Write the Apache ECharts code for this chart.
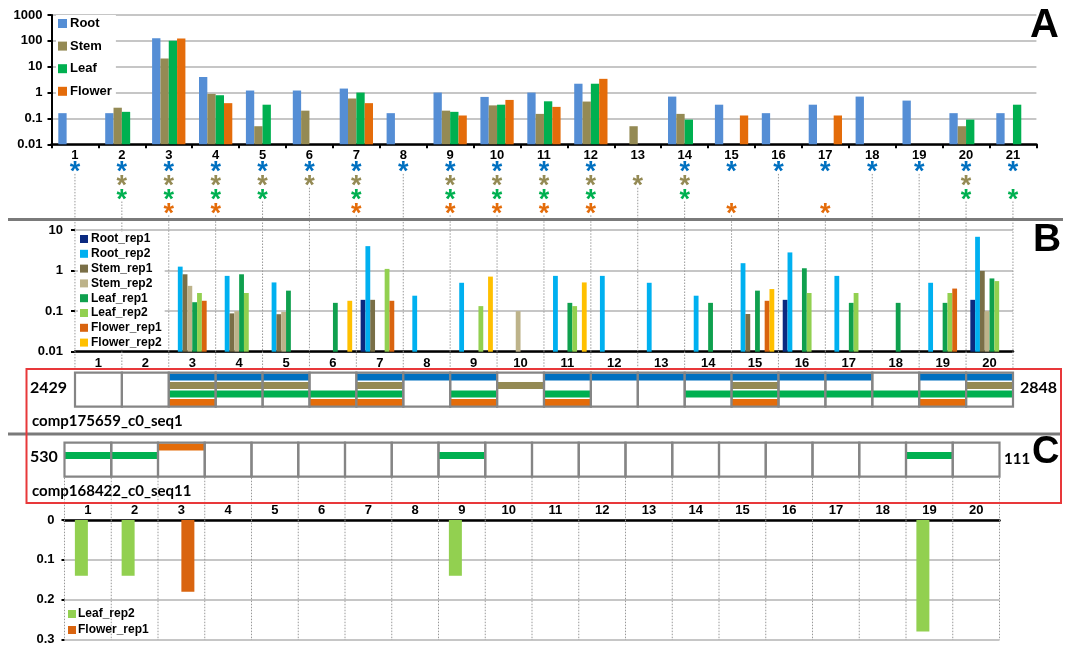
<!DOCTYPE html>
<html><head><meta charset="utf-8">
<script src="https://cdn.jsdelivr.net/npm/echarts@6/dist/echarts.min.js"></script>
<style>html,body{margin:0;padding:0;background:#fff}#c{width:1073px;height:646px}</style>
</head><body><div id="c"></div>
<script>
// ---------- DATA ----------
const catsA = ['1','2','3','4','5','6','7','8','9','10','11','12','13','14','15','16','17','18','19','20','21'];
const catsB = ['1','2','3','4','5','6','7','8','9','10','11','12','13','14','15','16','17','18','19','20'];
const ticksLogA = ['0.01','0.1','1','10','100','1000'];
const ticksLogB = ['0.01','0.1','1','10'];
const ticksC = ['0','0.1','0.2','0.3'];

// Panel A (log scale), 21 genes
const rootA   = [0.16,0.16,125,4.0,1.2,1.2,1.43,0.16,1.0,0.68,1.0,2.2,null,0.7,0.34,0.16,0.34,0.7,0.49,0.16,0.16];
const stemA   = [null,0.26,21,0.89,0.05,0.2,0.59,null,0.2,0.32,0.15,0.45,0.05,0.15,null,null,null,null,null,0.05,null];
const leafA   = [null,0.18,100,0.79,0.34,null,1.0,null,0.18,0.34,0.46,2.2,null,0.09,null,null,null,null,null,0.09,0.34];
const flowerA = [null,null,124,0.39,null,null,0.39,null,0.13,0.52,0.28,3.4,null,null,0.13,null,0.13,null,null,null,null];

// significance asterisks (1 = shown)
const sigRoot   = [1,1,1,1,1,1,1,1,1,1,1,1,0,1,1,1,1,1,1,1,1];
const sigStem   = [0,1,1,1,1,1,1,0,1,1,1,1,1,1,0,0,0,0,0,1,0];
const sigLeaf   = [0,1,1,1,1,0,1,0,1,1,1,1,0,1,0,0,0,0,0,1,1];
const sigFlower = [0,0,1,1,0,0,1,0,1,1,1,1,0,0,1,0,1,0,0,0,0];

// Panel B (log scale), 20 isoforms
const rootRep1   = [null,null,null,null,null,null,0.19,null,null,null,null,null,null,null,null,0.19,null,null,null,0.19];
const rootRep2   = [null,null,1.25,0.74,0.51,null,4.0,0.24,0.5,null,0.74,0.74,0.5,0.24,1.52,2.8,0.74,null,0.5,6.8];
const stemRep1   = [null,null,0.81,0.088,0.084,null,0.19,null,null,null,null,null,null,null,0.085,null,null,null,null,0.98];
const stemRep2   = [null,null,0.42,0.1,0.096,null,null,null,null,0.1,null,null,null,null,null,null,null,null,null,0.1];
const leafRep1   = [null,null,0.166,0.81,0.32,0.16,null,null,null,null,0.16,null,null,0.16,0.32,1.14,0.16,0.16,0.16,0.64];
const leafRep2   = [null,null,0.28,0.28,null,null,1.1,null,0.133,null,0.133,null,null,null,null,0.28,0.28,null,0.28,0.55];
const flowerRep1 = [null,null,0.18,null,null,null,0.18,null,null,null,null,null,null,null,0.18,null,null,null,0.36,null];
const flowerRep2 = [null,null,null,null,null,0.18,null,null,0.71,null,0.51,null,null,null,0.35,null,null,null,null,null];

// comp175659_c0_seq1 expression boxes
const boxRoot   = [0,0,1,1,1,0,1,1,1,0,1,1,1,1,1,1,1,0,1,1];
const boxStem   = [0,0,1,1,1,0,1,0,0,1,0,0,0,0,1,0,0,0,0,1];
const boxLeaf   = [0,0,1,1,1,1,1,0,1,0,1,0,0,1,1,1,1,1,1,1];
const boxFlower = [0,0,1,0,0,1,1,0,1,0,1,0,0,0,1,0,0,0,1,0];

// comp168422_c0_seq11 expression boxes
const seq11Flower = [0,0,1,0,0,0,0,0,0,0,0,0,0,0,0,0,0,0,0,0];
const seq11Leaf   = [1,1,0,0,0,0,0,0,1,0,0,0,0,0,0,0,0,0,1,0];

// Panel C bars (inverted axis)
const leafRep2C   = [0.14,0.14,null,null,null,null,null,null,0.14,null,null,null,null,null,null,null,null,null,0.28,null];
const flowerRep1C = [null,null,0.18,null,null,null,null,null,null,null,null,null,null,null,null,null,null,null,null,null];

// ---------- STYLE ----------
const FF = '"Liberation Sans", Arial, sans-serif';
const FC = 'Lato, "Open Sans", sans-serif';
const cA = {Root:'#558ED5', Stem:'#948A54', Leaf:'#00B050', Flower:'#E46C0A'};
const astColors = ['#0070C0','#948A54','#00B050','#E46C0A'];
const boxColors = ['#0070C0','#948A54','#00B050','#E46C0A'];
const cB = {Root_rep1:'#0B2A80', Root_rep2:'#00B0F0', Stem_rep1:'#7A6F47', Stem_rep2:'#BDB38A',
            Leaf_rep1:'#0FA04E', Leaf_rep2:'#92D050', Flower_rep1:'#D9640F', Flower_rep2:'#FFC000'};
const gridGray = '#B3B3B3';
const bold13 = {color:'#000', fontWeight:'bold', fontSize:13, fontFamily:FF};

// log-decade transform: bars are drawn on a value axis counted in decades above the axis minimum
const MIN_A = 0.01, MIN_B = 0.01;
const dec = (arr, mn) => arr.map(v => v == null ? null : Math.log10(v / mn));

// derived data for custom series
const sigRows = [sigRoot, sigStem, sigLeaf, sigFlower];
const astData = [];
sigRows.forEach((arr, r) => arr.forEach((f, i) => { if (f) astData.push([i, r]); }));
const dotData = catsA.map((c, i) => { let last = -1; sigRows.forEach((arr, r) => { if (arr[i]) last = r; }); return [i, last]; });
const box1Data = catsB.map((c, i) => [i, boxRoot[i], boxStem[i], boxLeaf[i], boxFlower[i]]);
const box2Data = catsB.map((c, i) => [i, seq11Flower[i], seq11Leaf[i], 0, 0]);

const L = {
  a:{left:51.5, top:15, width:984.9, height:129.3},
  s:{left:51.5, top:160.8, width:984.9, height:207},
  b:{left:75, top:230, width:938, height:121.7},
  b1:{left:75, top:372.7, width:938, height:34},
  c1:{left:64.5, top:442.7, width:935, height:197.3},
  c:{left:64.5, top:520, width:935, height:120}
};

function boxRender(rows, withDots, lastIdx, maxRow){
  return function(params, api){
    const i = api.value(0);
    const p0 = api.coord([i, 0]);
    const w = api.size([1, 0])[0];
    const x0 = p0[0] - w / 2;
    const top = p0[1];
    const rowH = api.coord([i, 1])[1] - top;
    const ch = [];
    for (let r = 0; r < 4; r++) {
      if (api.value(r + 1)) {
        ch.push({type:'rect', shape:{x:x0, y:top + r*rowH + 0.8, width:w, height:rowH - 1.6},
                 style:{fill:rows[r]}});
      }
    }
    ch.push({type:'rect', shape:{x:x0, y:top, width:w, height:4*rowH}, style:{fill:'none', stroke:'#858585', lineWidth:2.2}});
    if (withDots) {
      const yb = top + 4*rowH + 1, ye = api.coord([i, maxRow])[1];
      ch.push({type:'line', shape:{x1:x0, y1:yb, x2:x0, y2:ye}, style:{stroke:'#999', lineWidth:1, lineDash:[1.5,1.5]}});
      if (i === lastIdx) ch.push({type:'line', shape:{x1:x0+w, y1:yb, x2:x0+w, y2:ye}, style:{stroke:'#999', lineWidth:1, lineDash:[1.5,1.5]}});
    }
    return {type:'group', children:ch};
  };
}

const hidden = {show:false};
const option = {
  animation:false,
  backgroundColor:'#fff',
  grid:[L.a, L.s, L.b, L.b1, L.c1, L.c].map(g => Object.assign({containLabel:false}, g)),
  xAxis:[
    {gridIndex:0, type:'category', data:catsA, axisLine:{lineStyle:{color:'#000', width:2.5}},
     axisTick:{show:true, length:4, lineStyle:{color:'#000', width:2}}, axisLabel:Object.assign({margin:5}, bold13), splitLine:hidden},
    {gridIndex:1, type:'category', data:catsA, show:false},
    {gridIndex:2, type:'category', data:catsB, axisLine:{lineStyle:{color:'#000', width:2.5}},
     axisTick:hidden, axisLabel:Object.assign({margin:5}, bold13), splitLine:hidden},
    {gridIndex:3, type:'category', data:catsB, show:false},
    {gridIndex:4, type:'category', data:catsB, show:false},
    {gridIndex:5, type:'category', data:catsB, position:'top', axisLine:{lineStyle:{color:'#000', width:2.5}},
     axisTick:hidden, axisLabel:Object.assign({margin:3}, bold13), splitLine:hidden}
  ],
  yAxis:[
    {gridIndex:0, type:'value', min:0, max:ticksLogA.length - 1, interval:1, axisLine:{show:true, lineStyle:{color:'#000', width:2}},
     axisTick:{show:true, length:4, lineStyle:{color:'#000', width:2}},
     axisLabel:Object.assign({margin:9, formatter:v => ticksLogA[Math.round(v)]}, bold13),
     splitLine:{show:true, lineStyle:{color:gridGray, width:1.5}}},
    {gridIndex:1, type:'value', inverse:true, min:-0.5, max:14.5, show:false},
    {gridIndex:2, type:'value', min:0, max:ticksLogB.length - 1, interval:1, axisLine:{show:false},
     axisTick:{show:true, length:4, lineStyle:{color:'#000', width:2}},
     axisLabel:Object.assign({margin:12, formatter:v => ticksLogB[Math.round(v)]}, bold13),
     splitLine:{show:true, lineStyle:{color:gridGray, width:1.5}}},
    {gridIndex:3, type:'value', inverse:true, min:0, max:4, show:false},
    {gridIndex:4, type:'value', inverse:true, min:0, max:23.21, show:false},
    {gridIndex:5, type:'value', inverse:true, min:0, max:0.3, interval:0.1, axisLine:{show:false},
     axisTick:{show:true, length:3, lineStyle:{color:'#000', width:2}},
     axisLabel:Object.assign({margin:10, formatter:v => ticksC[Math.round(v * 10)]}, bold13),
     splitLine:{show:true, lineStyle:{color:gridGray, width:1.5}}}
  ],
  legend:[
    {data:['Root','Stem','Leaf','Flower'], orient:'vertical', left:56, top:15, itemWidth:9, itemHeight:9, itemGap:9.6,
     icon:'rect', selectedMode:false, backgroundColor:'#fff', padding:[2,4,2,2],
     textStyle:{color:'#000', fontWeight:'bold', fontSize:13, fontFamily:FF, padding:[0,0,0,-2]}},
    {data:['Root_rep1','Root_rep2','Stem_rep1','Stem_rep2','Leaf_rep1','Leaf_rep2','Flower_rep1','Flower_rep2'],
     orient:'vertical', left:78, top:232, itemWidth:8, itemHeight:8, itemGap:2.8, icon:'rect', selectedMode:false,
     backgroundColor:'#fff', padding:[1,3,1,2],
     textStyle:{color:'#000', fontWeight:'bold', fontSize:12, fontFamily:FF, padding:[0,0,0,-2]}},
    {data:['Leaf_rep2','Flower_rep1'], orient:'vertical', left:66, top:607, itemWidth:8, itemHeight:8, itemGap:4,
     icon:'rect', selectedMode:false, padding:[1,2,1,2],
     textStyle:{color:'#000', fontWeight:'bold', fontSize:12, fontFamily:FF, padding:[0,0,0,-3]}}
  ],
  series:[
    ...[['Root',rootA],['Stem',stemA],['Leaf',leafA],['Flower',flowerA]].map(([n, d]) => ({
      name:n, type:'bar', xAxisIndex:0, yAxisIndex:0, data:dec(d, MIN_A), barGap:'0%', barCategoryGap:'29%',
      itemStyle:{color:cA[n]}})),
    {type:'custom', name:'sig', xAxisIndex:1, yAxisIndex:1, data:astData, z:5,
     renderItem:(params, api) => {
       const p = api.coord([api.value(0), api.value(1)]);
       return {type:'text', x:p[0], y:p[1] + 5,
         style:{text:'*', fill:astColors[api.value(1)], font:'bold 27px ' + FF, align:'center', verticalAlign:'middle'}};
     }},
    {type:'custom', name:'dots', xAxisIndex:1, yAxisIndex:1, data:dotData, z:1,
     renderItem:(params, api) => {
       const a = api.coord([api.value(0), api.value(1) + 0.45]);
       const b = api.coord([api.value(0), 14.5]);
       return {type:'line', shape:{x1:a[0], y1:a[1], x2:b[0], y2:b[1]}, style:{stroke:'#999', lineWidth:1, lineDash:[1.5,1.5]}};
     }},
    ...[['Root_rep1',rootRep1],['Root_rep2',rootRep2],['Stem_rep1',stemRep1],['Stem_rep2',stemRep2],
        ['Leaf_rep1',leafRep1],['Leaf_rep2',leafRep2],['Flower_rep1',flowerRep1],['Flower_rep2',flowerRep2]].map(([n, d]) => ({
      name:n, type:'bar', xAxisIndex:2, yAxisIndex:2, data:dec(d, MIN_B), barGap:'0%', barCategoryGap:'18%',
      itemStyle:{color:cB[n]}})),
    {type:'custom', name:'seq1', xAxisIndex:3, yAxisIndex:3, data:box1Data, renderItem:boxRender(boxColors, false, 19, 4)},
    {type:'custom', name:'seq11', xAxisIndex:4, yAxisIndex:4, data:box2Data,
     renderItem:boxRender(['#E46C0A','#00B050','#fff','#fff'], true, 19, 23.21)},
    {name:'Leaf_rep2', type:'bar', xAxisIndex:5, yAxisIndex:5, data:leafRep2C, barWidth:13, barGap:'0%', itemStyle:{color:cB.Leaf_rep2}},
    {name:'Flower_rep1', type:'bar', xAxisIndex:5, yAxisIndex:5, data:flowerRep1C, barWidth:13, barGap:'0%', itemStyle:{color:cB.Flower_rep1}}
  ],
  graphic:[
    {type:'line', shape:{x1:8, y1:219.5, x2:1063, y2:219.5}, style:{stroke:'#7a7a7a', lineWidth:3}, z:50},
    {type:'line', shape:{x1:8, y1:434, x2:1062, y2:434}, style:{stroke:'#7a7a7a', lineWidth:3}, z:50},
    {type:'rect', shape:{x:26.5, y:369, width:1034.5, height:134}, style:{fill:'none', stroke:'#E8383A', lineWidth:2}, z:50},
    {type:'text', x:30, y:388, style:{text:'2429', font:'bold 16px ' + FC, fill:'#000', verticalAlign:'middle'}, z:60},
    {type:'text', x:1020, y:388, style:{text:'2848', font:'bold 16px ' + FC, fill:'#000', verticalAlign:'middle'}, z:60},
    {type:'text', x:32, y:421, style:{text:'comp175659_c0_seq1', font:'bold 15px ' + FC, fill:'#000', verticalAlign:'middle'}, z:60},
    {type:'text', x:30, y:457, style:{text:'530', font:'bold 16px ' + FC, fill:'#000', verticalAlign:'middle'}, z:60},
    {type:'text', x:1004, y:459, style:{text:'111', font:'bold 15px ' + FC, fill:'#000', verticalAlign:'middle'}, z:60},
    {type:'text', x:32, y:491, style:{text:'comp168422_c0_seq11', font:'bold 15px ' + FC, fill:'#000', verticalAlign:'middle'}, z:60},
    {type:'text', x:1030, y:26, style:{text:'A', font:'bold 40px ' + FF, fill:'#000', verticalAlign:'middle'}, z:60},
    {type:'text', x:1033, y:240, style:{text:'B', font:'bold 39px ' + FF, fill:'#000', verticalAlign:'middle'}, z:60},
    {type:'text', x:1032, y:453, style:{text:'C', font:'bold 38px ' + FF, fill:'#000', verticalAlign:'middle'}, z:60}
  ]
};
const chart = echarts.init(document.getElementById('c'), null, {renderer:'canvas'});
chart.setOption(option);
</script>
</body></html>
